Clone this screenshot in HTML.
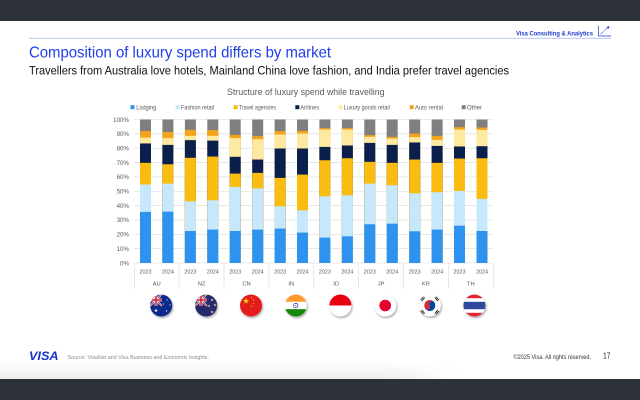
<!DOCTYPE html>
<html><head><meta charset="utf-8">
<style>
html,body{margin:0;padding:0;background:#fff;}
body{width:640px;height:400px;overflow:hidden;}
svg{display:block;font-family:"Liberation Sans",sans-serif;}
.o{fill:#7f7f7f}.a{fill:#f5a31a}.l{fill:#fde9a0}.n{fill:#0b1f4d}.t{fill:#fbbc12}.f{fill:#c6e8fb}.d{fill:#2e93ee}
.yl{font-size:6.2px;fill:#595959;text-anchor:end}
.yr{font-size:5.4px;fill:#595959;text-anchor:middle}
.ct{font-size:5.8px;fill:#595959;text-anchor:middle}
.lg{font-size:6.4px;fill:#595959}
.g{stroke:#d9d9d9;stroke-width:0.6}
</style></head>
<body>
<svg width="640" height="400" viewBox="0 0 640 400" xmlns="http://www.w3.org/2000/svg">
<defs>
<polygon id="st" points="0,-1 0.2245,-0.309 0.951,-0.309 0.363,0.118 0.588,0.809 0,0.382 -0.588,0.809 -0.363,0.118 -0.951,-0.309 -0.2245,-0.309"/>
<filter id="sh" x="-30%" y="-30%" width="160%" height="160%"><feDropShadow dx="1" dy="1.5" stdDeviation="1" flood-color="#000" flood-opacity="0.35"/></filter>
<clipPath id="c1"><circle cx="161.2" cy="305.5" r="11"/></clipPath>
<clipPath id="c2"><circle cx="206.1" cy="305.5" r="11"/></clipPath>
<clipPath id="c3"><circle cx="251" cy="305.5" r="11"/></clipPath>
<clipPath id="c4"><circle cx="295.8" cy="305.5" r="11"/></clipPath>
<clipPath id="c5"><circle cx="340.4" cy="305.5" r="11"/></clipPath>
<clipPath id="c6"><circle cx="385.2" cy="305.5" r="11"/></clipPath>
<clipPath id="c7"><circle cx="429.8" cy="305.5" r="11"/></clipPath>
<clipPath id="c8"><circle cx="474.4" cy="305.5" r="11"/></clipPath>
<linearGradient id="fg" x1="0" y1="0" x2="0" y2="1"><stop offset="0" stop-color="#fff"/><stop offset="1" stop-color="#ececec"/></linearGradient>
<linearGradient id="fh" x1="0" y1="0" x2="1" y2="0"><stop offset="0" stop-color="#fff" stop-opacity="0"/><stop offset="1" stop-color="#fff" stop-opacity="1"/></linearGradient>
</defs>

<!-- dark bands -->
<rect x="0" y="0" width="640" height="21" fill="#2d3239"/>
<rect x="0" y="362" width="460" height="17" fill="url(#fg)"/>
<rect x="380" y="362" width="80" height="17" fill="url(#fh)"/>
<rect x="0" y="379" width="640" height="21" fill="#2d3239"/>

<!-- header -->
<line x1="29" y1="38.3" x2="611" y2="38.3" stroke="#b3c0f2" stroke-width="0.8"/>
<text x="516" y="35.3" font-size="6.8" font-weight="bold" fill="#1a3ccc" textLength="77" lengthAdjust="spacingAndGlyphs">Visa Consulting &amp; Analytics</text>
<polyline points="598.5,25.5 598.5,36 611,36" fill="none" stroke="#1a3ccc" stroke-width="0.7"/>
<line x1="600.5" y1="34" x2="608" y2="27.5" stroke="#1a3ccc" stroke-width="0.7" stroke-dasharray="1.2,0.8"/>
<polygon points="609.5,26 606.5,27 608.5,29" fill="#1a3ccc"/>

<text x="29" y="57.5" font-size="16" fill="#1f40e6" textLength="302" lengthAdjust="spacingAndGlyphs">Composition of luxury spend differs by market</text>
<text x="29" y="74.5" font-size="12.3" fill="#111" textLength="480" lengthAdjust="spacingAndGlyphs">Travellers from Australia love hotels, Mainland China love fashion, and India prefer travel agencies</text>

<text x="227" y="95" font-size="9.6" fill="#595959" textLength="157.5" lengthAdjust="spacingAndGlyphs">Structure of luxury spend while travelling</text>

<!-- legend -->
<rect x="130.5" y="105.2" width="4" height="4" class="d"/><text x="136.3" y="109.3" class="lg" textLength="20" lengthAdjust="spacingAndGlyphs">Lodging</text>
<rect x="175.6" y="105.2" width="4" height="4" class="f"/><text x="181" y="109.3" class="lg" textLength="33" lengthAdjust="spacingAndGlyphs">Fashion retail</text>
<rect x="233.7" y="105.2" width="4" height="4" class="t"/><text x="239" y="109.3" class="lg" textLength="37" lengthAdjust="spacingAndGlyphs">Travel agencies</text>
<rect x="295.3" y="105.2" width="4" height="4" class="n"/><text x="300.3" y="109.3" class="lg" textLength="19" lengthAdjust="spacingAndGlyphs">Airlines</text>
<rect x="338.7" y="105.2" width="4" height="4" class="l"/><text x="343.8" y="109.3" class="lg" textLength="46" lengthAdjust="spacingAndGlyphs">Luxury goods retail</text>
<rect x="409.7" y="105.2" width="4" height="4" class="a"/><text x="415" y="109.3" class="lg" textLength="28" lengthAdjust="spacingAndGlyphs">Auto rental</text>
<rect x="461.7" y="105.2" width="4" height="4" class="o"/><text x="467" y="109.3" class="lg" textLength="15" lengthAdjust="spacingAndGlyphs">Other</text>

<!-- gridlines -->
<g class="g">
<line x1="134.3" y1="119.5" x2="493.2" y2="119.5"/>
<line x1="134.3" y1="133.85" x2="493.2" y2="133.85"/>
<line x1="134.3" y1="148.2" x2="493.2" y2="148.2"/>
<line x1="134.3" y1="162.55" x2="493.2" y2="162.55"/>
<line x1="134.3" y1="176.9" x2="493.2" y2="176.9"/>
<line x1="134.3" y1="191.25" x2="493.2" y2="191.25"/>
<line x1="134.3" y1="205.6" x2="493.2" y2="205.6"/>
<line x1="134.3" y1="219.95" x2="493.2" y2="219.95"/>
<line x1="134.3" y1="234.3" x2="493.2" y2="234.3"/>
<line x1="134.3" y1="248.65" x2="493.2" y2="248.65"/>
<line x1="134.3" y1="263" x2="493.2" y2="263"/>
<line x1="134.3" y1="263" x2="134.3" y2="289"/>
<line x1="179.16" y1="263" x2="179.16" y2="289"/>
<line x1="224.0" y1="263" x2="224.0" y2="289"/>
<line x1="268.9" y1="263" x2="268.9" y2="289"/>
<line x1="313.8" y1="263" x2="313.8" y2="289"/>
<line x1="358.6" y1="263" x2="358.6" y2="289"/>
<line x1="403.5" y1="263" x2="403.5" y2="289"/>
<line x1="448.3" y1="263" x2="448.3" y2="289"/>
<line x1="493.2" y1="263" x2="493.2" y2="289"/>
</g>

<!-- y labels -->
<text x="129" y="121.8" class="yl">100%</text>
<text x="129" y="136.1" class="yl">90%</text>
<text x="129" y="150.5" class="yl">80%</text>
<text x="129" y="164.8" class="yl">70%</text>
<text x="129" y="179.2" class="yl">60%</text>
<text x="129" y="193.5" class="yl">50%</text>
<text x="129" y="207.9" class="yl">40%</text>
<text x="129" y="222.2" class="yl">30%</text>
<text x="129" y="236.6" class="yl">20%</text>
<text x="129" y="250.9" class="yl">10%</text>
<text x="129" y="265.3" class="yl">0%</text>

<!-- bars -->
<g transform="translate(140,263) scale(1,-1.435)"><rect class="o" width="11" height="100"/><rect class="a" width="11" height="91.9"/><rect class="l" width="11" height="87.4"/><rect class="n" width="11" height="83.3"/><rect class="t" width="11" height="69.8"/><rect class="f" width="11" height="54.7"/><rect class="d" width="11" height="35.6"/></g>
<g transform="translate(162.4,263) scale(1,-1.435)"><rect class="o" width="11" height="100"/><rect class="a" width="11" height="91.2"/><rect class="l" width="11" height="87.0"/><rect class="n" width="11" height="82.3"/><rect class="t" width="11" height="68.8"/><rect class="f" width="11" height="55.3"/><rect class="d" width="11" height="35.8"/></g>
<g transform="translate(184.9,263) scale(1,-1.435)"><rect class="o" width="11" height="100"/><rect class="a" width="11" height="92.8"/><rect class="l" width="11" height="88.6"/><rect class="n" width="11" height="85.6"/><rect class="t" width="11" height="73.3"/><rect class="f" width="11" height="43.0"/><rect class="d" width="11" height="22.3"/></g>
<g transform="translate(207.3,263) scale(1,-1.435)"><rect class="o" width="11" height="100"/><rect class="a" width="11" height="92.6"/><rect class="l" width="11" height="88.6"/><rect class="n" width="11" height="85.3"/><rect class="t" width="11" height="74.2"/><rect class="f" width="11" height="43.7"/><rect class="d" width="11" height="23.3"/></g>
<g transform="translate(229.7,263) scale(1,-1.435)"><rect class="o" width="11" height="100"/><rect class="a" width="11" height="89.3"/><rect class="l" width="11" height="87.0"/><rect class="n" width="11" height="74.0"/><rect class="t" width="11" height="62.3"/><rect class="f" width="11" height="53.0"/><rect class="d" width="11" height="22.3"/></g>
<g transform="translate(252.2,263) scale(1,-1.435)"><rect class="o" width="11" height="100"/><rect class="a" width="11" height="88.4"/><rect class="l" width="11" height="86.3"/><rect class="n" width="11" height="72.1"/><rect class="t" width="11" height="62.8"/><rect class="f" width="11" height="52.0"/><rect class="d" width="11" height="23.3"/></g>
<g transform="translate(274.6,263) scale(1,-1.435)"><rect class="o" width="11" height="100"/><rect class="a" width="11" height="91.9"/><rect class="l" width="11" height="89.5"/><rect class="n" width="11" height="79.8"/><rect class="t" width="11" height="59.3"/><rect class="f" width="11" height="39.5"/><rect class="d" width="11" height="24.0"/></g>
<g transform="translate(297,263) scale(1,-1.435)"><rect class="o" width="11" height="100"/><rect class="a" width="11" height="92.1"/><rect class="l" width="11" height="90.2"/><rect class="n" width="11" height="79.8"/><rect class="t" width="11" height="61.6"/><rect class="f" width="11" height="36.7"/><rect class="d" width="11" height="21.2"/></g>
<g transform="translate(319.4,263) scale(1,-1.435)"><rect class="o" width="11" height="100"/><rect class="a" width="11" height="94.0"/><rect class="l" width="11" height="93.0"/><rect class="n" width="11" height="80.9"/><rect class="t" width="11" height="71.6"/><rect class="f" width="11" height="46.5"/><rect class="d" width="11" height="17.7"/></g>
<g transform="translate(341.9,263) scale(1,-1.435)"><rect class="o" width="11" height="100"/><rect class="a" width="11" height="94.0"/><rect class="l" width="11" height="93.0"/><rect class="n" width="11" height="81.9"/><rect class="t" width="11" height="73.0"/><rect class="f" width="11" height="47.2"/><rect class="d" width="11" height="18.6"/></g>
<g transform="translate(364.3,263) scale(1,-1.435)"><rect class="o" width="11" height="100"/><rect class="a" width="11" height="89.1"/><rect class="l" width="11" height="87.9"/><rect class="n" width="11" height="83.7"/><rect class="t" width="11" height="70.5"/><rect class="f" width="11" height="55.3"/><rect class="d" width="11" height="27.0"/></g>
<g transform="translate(386.7,263) scale(1,-1.435)"><rect class="o" width="11" height="100"/><rect class="a" width="11" height="87.9"/><rect class="l" width="11" height="86.7"/><rect class="n" width="11" height="82.3"/><rect class="t" width="11" height="69.8"/><rect class="f" width="11" height="54.2"/><rect class="d" width="11" height="27.4"/></g>
<g transform="translate(409.2,263) scale(1,-1.435)"><rect class="o" width="11" height="100"/><rect class="a" width="11" height="90.2"/><rect class="l" width="11" height="87.7"/><rect class="n" width="11" height="84.0"/><rect class="t" width="11" height="72.1"/><rect class="f" width="11" height="48.6"/><rect class="d" width="11" height="22.1"/></g>
<g transform="translate(431.6,263) scale(1,-1.435)"><rect class="o" width="11" height="100"/><rect class="a" width="11" height="88.6"/><rect class="l" width="11" height="85.8"/><rect class="n" width="11" height="81.6"/><rect class="t" width="11" height="69.8"/><rect class="f" width="11" height="49.3"/><rect class="d" width="11" height="23.3"/></g>
<g transform="translate(454,263) scale(1,-1.435)"><rect class="o" width="11" height="100"/><rect class="a" width="11" height="94.7"/><rect class="l" width="11" height="93.0"/><rect class="n" width="11" height="81.2"/><rect class="t" width="11" height="72.8"/><rect class="f" width="11" height="50.2"/><rect class="d" width="11" height="26.0"/></g>
<g transform="translate(476.5,263) scale(1,-1.435)"><rect class="o" width="11" height="100"/><rect class="a" width="11" height="94.4"/><rect class="l" width="11" height="92.8"/><rect class="n" width="11" height="81.4"/><rect class="t" width="11" height="73.0"/><rect class="f" width="11" height="44.7"/><rect class="d" width="11" height="22.3"/></g>

<!-- year labels -->
<text x="145.5" y="273.6" class="yr">2023</text><text x="167.9" y="273.6" class="yr">2024</text>
<text x="190.4" y="273.6" class="yr">2023</text><text x="212.8" y="273.6" class="yr">2024</text>
<text x="235.2" y="273.6" class="yr">2023</text><text x="257.7" y="273.6" class="yr">2024</text>
<text x="280.1" y="273.6" class="yr">2023</text><text x="302.5" y="273.6" class="yr">2024</text>
<text x="324.9" y="273.6" class="yr">2023</text><text x="347.4" y="273.6" class="yr">2024</text>
<text x="369.8" y="273.6" class="yr">2023</text><text x="392.2" y="273.6" class="yr">2024</text>
<text x="414.7" y="273.6" class="yr">2023</text><text x="437.1" y="273.6" class="yr">2024</text>
<text x="459.5" y="273.6" class="yr">2023</text><text x="482" y="273.6" class="yr">2024</text>

<!-- country labels -->
<text x="156.7" y="285.3" class="ct">AU</text>
<text x="201.6" y="285.3" class="ct">NZ</text>
<text x="246.5" y="285.3" class="ct">CN</text>
<text x="291.3" y="285.3" class="ct">IN</text>
<text x="336.2" y="285.3" class="ct">ID</text>
<text x="381.1" y="285.3" class="ct">JP</text>
<text x="425.9" y="285.3" class="ct">KR</text>
<text x="470.8" y="285.3" class="ct">TH</text>

<!-- flags -->
<!-- AU -->
<g filter="url(#sh)"><g clip-path="url(#c1)">
<rect x="150" y="294" width="23" height="23" fill="#0a2a8a"/>
<line x1="150" y1="294" x2="162" y2="306" stroke="#fff" stroke-width="1.6"/>
<line x1="162" y1="294" x2="150" y2="306" stroke="#fff" stroke-width="1.6"/>
<line x1="150" y1="294" x2="162" y2="306" stroke="#d0102a" stroke-width="0.6"/>
<line x1="162" y1="294" x2="150" y2="306" stroke="#d0102a" stroke-width="0.6"/>
<rect x="150" y="298.6" width="12" height="2.8" fill="#fff"/>
<rect x="154.6" y="294" width="2.8" height="12" fill="#fff"/>
<rect x="150" y="299.3" width="12" height="1.4" fill="#d0102a"/>
<rect x="155.3" y="294" width="1.4" height="12" fill="#d0102a"/>
<use href="#st" transform="translate(156,310.5) scale(2)" fill="#fff"/>
<use href="#st" transform="translate(167,300) scale(1)" fill="#fff"/>
<use href="#st" transform="translate(170,305) scale(1)" fill="#fff"/>
<use href="#st" transform="translate(166.5,311) scale(1.1)" fill="#fff"/>
<use href="#st" transform="translate(163.5,304) scale(0.9)" fill="#fff"/>
</g></g>
<!-- NZ -->
<g filter="url(#sh)"><g clip-path="url(#c2)">
<rect x="195" y="294" width="23" height="23" fill="#25296a"/>
<line x1="195" y1="294" x2="207" y2="306" stroke="#fff" stroke-width="1.6"/>
<line x1="207" y1="294" x2="195" y2="306" stroke="#fff" stroke-width="1.6"/>
<line x1="195" y1="294" x2="207" y2="306" stroke="#c8102e" stroke-width="0.6"/>
<line x1="207" y1="294" x2="195" y2="306" stroke="#c8102e" stroke-width="0.6"/>
<rect x="195" y="298.6" width="12" height="2.8" fill="#fff"/>
<rect x="199.6" y="294" width="2.8" height="12" fill="#fff"/>
<rect x="195" y="299.3" width="12" height="1.4" fill="#c8102e"/>
<rect x="200.3" y="294" width="1.4" height="12" fill="#c8102e"/>
<use href="#st" transform="translate(212,300) scale(1.2)" fill="#c8102e" stroke="#fff" stroke-width="0.3"/>
<use href="#st" transform="translate(215,305) scale(1.2)" fill="#c8102e" stroke="#fff" stroke-width="0.3"/>
<use href="#st" transform="translate(209,306) scale(1.1)" fill="#c8102e" stroke="#fff" stroke-width="0.3"/>
<use href="#st" transform="translate(212,312) scale(1.3)" fill="#c8102e" stroke="#fff" stroke-width="0.3"/>
</g></g>
<!-- CN -->
<g filter="url(#sh)"><g clip-path="url(#c3)">
<rect x="240" y="294" width="23" height="23" fill="#e41e1e"/>
<use href="#st" transform="translate(246,301) scale(3.2)" fill="#ffde00"/>
<use href="#st" transform="translate(251.5,297.5) scale(1)" fill="#ffde00"/>
<use href="#st" transform="translate(253.5,300) scale(1)" fill="#ffde00"/>
<use href="#st" transform="translate(253.5,303.5) scale(1)" fill="#ffde00"/>
<use href="#st" transform="translate(251.5,306) scale(1)" fill="#ffde00"/>
</g></g>
<!-- IN -->
<g filter="url(#sh)"><g clip-path="url(#c4)">
<rect x="284" y="294" width="24" height="8" fill="#ff9933"/>
<rect x="284" y="301.8" width="24" height="7.4" fill="#fff"/>
<rect x="284" y="309.2" width="24" height="8" fill="#138808"/>
<circle cx="295.8" cy="305.5" r="2.2" fill="none" stroke="#000080" stroke-width="0.6"/>
<circle cx="295.8" cy="305.5" r="0.5" fill="#000080"/>
</g></g>
<!-- ID -->
<g filter="url(#sh)"><g clip-path="url(#c5)">
<rect x="329" y="294" width="23" height="11.5" fill="#e70011"/>
<rect x="329" y="305.5" width="23" height="12" fill="#fff"/>
</g></g>
<!-- JP -->
<g filter="url(#sh)"><g clip-path="url(#c6)">
<rect x="374" y="294" width="23" height="23" fill="#fff"/>
<circle cx="385.2" cy="305.5" r="5.8" fill="#e4002b"/>
</g></g>
<!-- KR -->
<g filter="url(#sh)"><g clip-path="url(#c7)">
<rect x="418" y="294" width="23" height="23" fill="#fff"/>
<g transform="rotate(-33 429.8 305.5)">
<path d="M424.3,305.5 A5.5,5.5 0 0 1 435.3,305.5 Z" fill="#cd2e3a"/>
<path d="M424.3,305.5 A5.5,5.5 0 0 0 435.3,305.5 Z" fill="#0047a0"/>
<circle cx="427.05" cy="305.5" r="2.75" fill="#cd2e3a"/>
<circle cx="432.55" cy="305.5" r="2.75" fill="#0047a0"/>
</g>
<g stroke="#000" stroke-width="0.9">
<line x1="420.5" y1="300" x2="423.5" y2="296.5"/><line x1="421.7" y1="301" x2="424.7" y2="297.5"/>
<line x1="436" y1="296.5" x2="439" y2="300"/><line x1="434.8" y1="297.5" x2="437.8" y2="301"/>
<line x1="420.5" y1="311" x2="423.5" y2="314.5"/><line x1="421.7" y1="310" x2="424.7" y2="313.5"/>
<line x1="436" y1="314.5" x2="439" y2="311"/><line x1="434.8" y1="313.5" x2="437.8" y2="310"/>
</g>
</g></g>
<!-- TH -->
<g filter="url(#sh)"><g clip-path="url(#c8)">
<rect x="463" y="294" width="23" height="23" fill="#fff"/>
<rect x="463" y="294" width="23" height="4.2" fill="#e0252e"/>
<rect x="463" y="301.8" width="23" height="7.4" fill="#2d4a9c"/>
<rect x="463" y="312.8" width="23" height="4.5" fill="#e0252e"/>
</g></g>

<!-- footer -->
<text x="29" y="360" font-size="12.4" font-weight="bold" font-style="italic" fill="#1434cb" textLength="29.5" lengthAdjust="spacingAndGlyphs">VISA</text>
<text x="67.5" y="358.8" font-size="5.6" fill="#8a8a8a" textLength="141.5" lengthAdjust="spacingAndGlyphs">Source: VisaNet and Visa Business and Economic Insights.</text>
<text x="513.5" y="358.8" font-size="6" fill="#333" textLength="77.5" lengthAdjust="spacingAndGlyphs">©2025 Visa. All rights reserved.</text>
<text x="603" y="358.3" font-size="8" fill="#222" textLength="7.5" lengthAdjust="spacingAndGlyphs">17</text>
</svg>
</body></html>
